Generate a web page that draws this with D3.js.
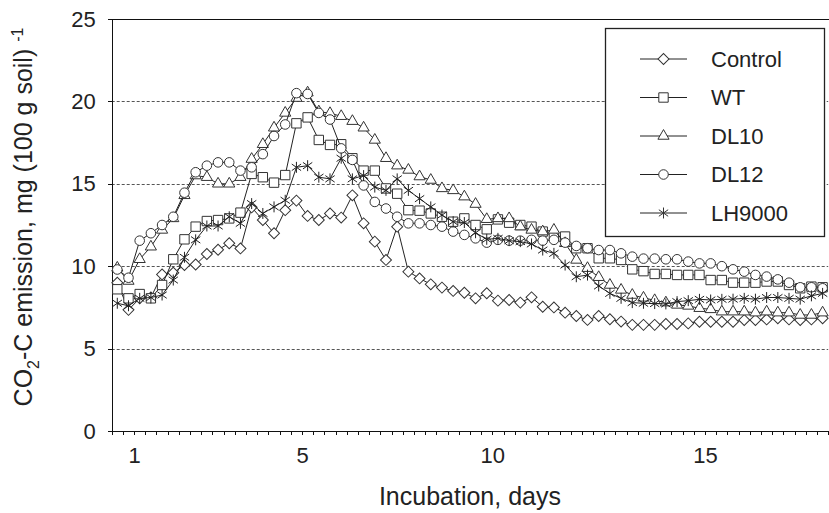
<!DOCTYPE html>
<html lang="en">
<head>
<meta charset="UTF-8">
<title>CO2-C emission</title>
<script src="https://cdnjs.cloudflare.com/ajax/libs/d3/7.8.5/d3.min.js"></script>
<style>
    body { margin: 0; background: #fff; }
    svg { display: block; font-family: "Liberation Sans", Arial, sans-serif; }
    .grid line { stroke: #555; stroke-width: 1; stroke-dasharray: 3, 2; }
    .axis path, .axis line { stroke: #111; shape-rendering: crispEdges; }
    .axis text { font-size: 22px; fill: #222; }
    .series-line { fill: none; stroke: #222; stroke-width: 1; }
    .marker { fill: #fff; stroke: #333; stroke-width: 1; }
    .legend text { font-size: 22px; fill: #222; }
</style>
</head>
<body>
<div id="chart"></div>
<script>
    const width = 829;
    const height = 513;

    // sampling points along the incubation (category axis)
    const samples = d3.range(64);
    const xLabelAt = [2, 17, 34, 53];
    const xLabels = ["1", "5", "10", "15"];
    const yTicks = [0, 5, 10, 15, 20, 25];

    const seriesNames = ["Control", "WT", "DL10", "DL12", "LH9000"];

    const control = [9.0, 7.35, 8.05, 8.1, 9.5, 9.6, 10.07, 10.1, 10.74, 11.0,
        11.39, 11.08, 13.57, 12.8, 12.0, 13.4, 13.98, 13.05, 12.8, 13.2,
        12.95, 14.3, 12.6, 11.49, 10.38, 12.4, 9.67, 9.26, 8.9, 8.7,
        8.5, 8.39, 8.05, 8.36, 7.91, 7.95, 7.79, 8.11, 7.54, 7.5,
        7.18, 6.98, 6.74, 6.98, 6.78, 6.64, 6.44, 6.44, 6.44, 6.49,
        6.49, 6.53, 6.63, 6.63, 6.63, 6.63, 6.73, 6.73, 6.77, 6.84,
        6.77, 6.73, 6.77, 6.84];

    const wt = [8.6, 8.05, 8.31, 8.05, 8.86, 10.42, 11.63, 12.4, 12.74, 12.8,
        12.9, 13.25, 15.6, 15.4, 15.07, 15.53, 18.67, 19.03, 17.66, 17.36,
        17.4, 16.55, 15.8, 15.8, 14.72, 14.4, 13.4, 13.37, 13.2, 13.0,
        12.7, 12.9, 12.5, 12.24, 12.84, 12.64, 12.5, 12.4, 12.1, 11.83,
        11.8, 11.09, 11.09, 10.48, 10.48, 10.38, 9.81, 9.7, 9.53, 9.53,
        9.47, 9.47, 9.47, 9.16, 9.16, 9.0, 9.0, 9.0, 9.07, 9.07,
        8.86, 8.66, 8.76, 8.72];

    const dl10 = [9.9, 9.1, 10.42, 11.18, 12.2, 12.9, 14.3, 15.5, 15.4, 15.0,
        15.0, 15.4, 16.5, 17.4, 18.4, 19.3, 20.2, 20.53, 19.38, 19.28,
        19.1, 18.8, 18.4, 17.66, 16.55, 16.1, 15.84, 15.44, 15.23, 14.72,
        14.6, 14.22, 13.77, 12.85, 12.9, 12.9, 12.4, 12.2, 12.1, 12.2,
        11.39, 10.38, 9.88, 9.33, 8.86, 8.56, 8.25, 8.08, 7.93, 7.79,
        7.65, 7.59, 7.45, 7.38, 7.24, 7.24, 7.24, 7.18, 7.24, 7.18,
        7.18, 7.04, 7.04, 7.18];

    const dl12 = [9.8, 9.3, 11.55, 12.0, 12.5, 13.0, 14.46, 15.7, 16.1, 16.3,
        16.3, 15.8, 16.0, 16.8, 17.9, 18.6, 20.5, 20.45, 19.3, 18.9,
        17.15, 16.45, 14.9, 13.9, 13.5, 13.0, 12.6, 12.6, 12.5, 12.4,
        12.1, 11.9, 11.69, 11.43, 11.6, 11.55, 11.55, 11.6, 11.55, 11.6,
        11.43, 11.23, 11.09, 10.98, 10.98, 10.78, 10.58, 10.46, 10.46, 10.42,
        10.42, 10.28, 10.17, 10.17, 10.0, 9.81, 9.67, 9.47, 9.37, 9.2,
        9.0, 8.72, 8.72, 8.66];

    const lh9000 = [7.75, 7.6, 8.05, 8.1, 8.25, 9.16, 10.54, 11.6, 12.44, 12.44,
        13.0, 12.6, 13.8, 13.2, 13.6, 14.0, 16.0, 16.1, 15.4, 15.3,
        16.55, 15.3, 15.5, 14.8, 14.6, 15.3, 14.6, 14.1, 13.6, 13.1,
        12.7, 12.65, 12.03, 11.63, 11.69, 11.55, 11.49, 11.35, 10.98, 10.78,
        10.07, 9.36, 9.46, 8.8, 8.35, 8.05, 7.79, 7.75, 7.73, 7.71,
        7.85, 7.91, 7.99, 7.95, 7.99, 8.0, 8.05, 8.0, 8.1, 8.1,
        8.05, 8.0, 8.2, 8.35];

    const seriesValues = [control, wt, dl10, dl12, lh9000];

    const plotLeft = 111.7, plotRight = 828.2, plotTop = 19, plotBottom = 431;

    const x = d3.scaleLinear().domain([0, samples.length]).range([plotLeft, plotRight]);
    const y = d3.scaleLinear().domain([0, 25]).range([plotBottom, plotTop]);

    const svg = d3.select("#chart")
        .append("svg")
        .attr("width", width)
        .attr("height", height);

    // dashed gridlines
    svg.append("g")
        .attr("class", "grid")
        .selectAll("line")
        .data(yTicks.filter(d => d > 0 && d < 25))
        .enter()
        .append("line")
        .attr("x1", plotLeft)
        .attr("x2", plotRight)
        .attr("y1", d => Math.round(y(d)) + 0.5)
        .attr("y2", d => Math.round(y(d)) + 0.5);

    // top border of the plot area
    svg.append("line")
        .attr("x1", plotLeft).attr("x2", width)
        .attr("y1", plotTop).attr("y2", plotTop)
        .attr("stroke", "#111")
        .attr("shape-rendering", "crispEdges");

    // y axis
    svg.append("g")
        .attr("class", "axis")
        .attr("transform", `translate(${plotLeft},0)`)
        .call(d3.axisLeft(y).tickValues(yTicks).tickSize(4).tickPadding(12));

    // x axis: a tick between every sample
    svg.append("g")
        .attr("class", "axis")
        .attr("transform", `translate(0,${plotBottom})`)
        .call(d3.axisBottom(x)
            .tickValues(d3.range(samples.length + 1))
            .tickFormat("")
            .tickSizeInner(4)
            .tickSizeOuter(0));

    svg.append("g")
        .attr("class", "axis")
        .attr("transform", `translate(0,${plotBottom})`)
        .call(d3.axisBottom(x)
            .tickValues(xLabelAt)
            .tickFormat((d, i) => xLabels[i])
            .tickSize(0)
            .tickPadding(16))
        .select(".domain").remove();

    // axis titles
    svg.append("text")
        .attr("x", (plotLeft + plotRight) / 2)
        .attr("y", 505)
        .attr("text-anchor", "middle")
        .style("font-size", "25px")
        .style("fill", "#222")
        .text("Incubation, days");

    const yTitle = svg.append("text")
        .attr("transform", `translate(32,${(plotTop + plotBottom) / 2 - 8}) rotate(-90)`)
        .attr("text-anchor", "middle")
        .style("font-size", "25px")
        .style("fill", "#222");
    yTitle.append("tspan").text("CO");
    yTitle.append("tspan").attr("dy", 7).style("font-size", "16px").text("2");
    yTitle.append("tspan").attr("dy", -7).text("-C emission, mg (100 g soil) ");
    yTitle.append("tspan").attr("dy", -9).style("font-size", "16px").text("-1");

    // markers
    const star = {
        draw(ctx, size) {
            const r = Math.sqrt(size) / 2;
            const d = r * 0.85;
            ctx.moveTo(0, -r); ctx.lineTo(0, r);
            ctx.moveTo(-d, -d * 0.7); ctx.lineTo(d, d * 0.7);
            ctx.moveTo(-d, d * 0.7); ctx.lineTo(d, -d * 0.7);
        }
    };
    const markers = [
        { type: d3.symbolSquare, size: 60, rotate: 45 },
        { type: d3.symbolSquare, size: 88, rotate: 0 },
        { type: d3.symbolTriangle, size: 54, rotate: 0 },
        { type: d3.symbolCircle, size: 72, rotate: 0 },
        { type: star, size: 120, rotate: 0 }
    ];

    const line = d3.line()
        .x((d, i) => x(i + 0.5))
        .y(d => y(d));

    seriesValues.forEach((values, s) => {
        const m = markers[s];
        const g = svg.append("g");
        g.append("path")
            .attr("class", "series-line")
            .attr("d", line(values));
        g.selectAll("path.marker")
            .data(values)
            .enter()
            .append("path")
            .attr("class", "marker")
            .attr("d", d3.symbol().type(m.type).size(m.size))
            .attr("transform", (d, i) => `translate(${x(i + 0.5)},${y(d)}) rotate(${m.rotate})`)
            .style("fill", s === 4 ? "none" : "#fff")
            .style("stroke", s === 4 ? "#222" : "#333");
    });

    // legend
    const legend = svg.append("g").attr("class", "legend");
    legend.append("rect")
        .attr("x", 605.5)
        .attr("y", 28.5)
        .attr("width", 219)
        .attr("height", 208)
        .attr("fill", "#fff")
        .attr("stroke", "#222")
        .attr("stroke-width", 1.3);

    seriesNames.forEach((name, s) => {
        const m = markers[s];
        const ly = 59 + s * 38.5;
        const row = legend.append("g").attr("transform", `translate(0,${ly})`);
        row.append("line")
            .attr("x1", 640).attr("x2", 687)
            .attr("y1", 0).attr("y2", 0)
            .attr("stroke", "#222");
        row.append("path")
            .attr("class", "marker")
            .attr("d", d3.symbol().type(m.type).size(m.size))
            .attr("transform", `translate(663.5,0) rotate(${m.rotate})`)
            .style("fill", s === 4 ? "none" : "#fff");
        row.append("text")
            .attr("x", 711)
            .attr("dy", "0.35em")
            .text(name);
    });
</script>
</body>
</html>
